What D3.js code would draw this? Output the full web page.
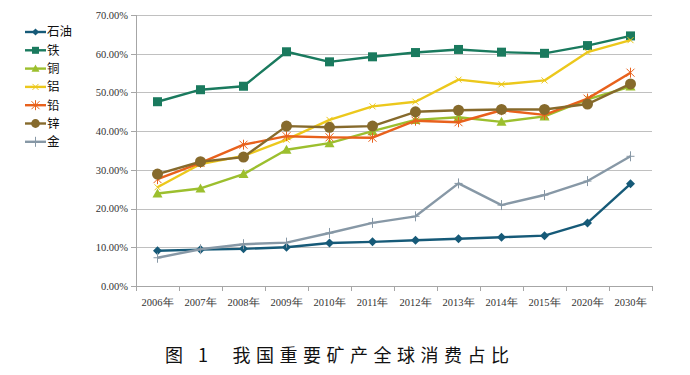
<!doctype html>
<head>
    <meta charset="utf-8">
    <title>我国重要矿产全球消费占比</title>
    <script src="https://d3js.org/d3.v7.min.js"></script>
    <style>
        body {margin:0; background:#fff;}
        svg {width:690px; height:375px; display:block;}
        .grid line {stroke:#c0c0c0; shape-rendering:crispEdges;}
        .axis path, .axis line {stroke:#a6a6a6; fill:none; shape-rendering:crispEdges;}
        .axis text {font-family:"Liberation Serif", serif; font-size:10.5px; fill:#333;}
        .legend text {font-family:"Noto Sans CJK SC", sans-serif; font-size:12.5px; fill:#111;}
        .title {font-family:"Noto Sans CJK SC", sans-serif; font-size:18px; fill:#111;}
    </style>
</head>
<body>
    <script>
        "use strict";
        var years = ["2006年", "2007年", "2008年", "2009年", "2010年", "2011年", "2012年", "2013年", "2014年", "2015年", "2020年", "2030年"];
        var yTicks = [0, 10, 20, 30, 40, 50, 60, 70];

        var oil    = [9.1, 9.4, 9.6, 10.0, 11.1, 11.4, 11.8, 12.2, 12.6, 13.0, 16.3, 26.4];
        var iron   = [47.6, 50.7, 51.6, 60.5, 57.9, 59.2, 60.3, 61.1, 60.4, 60.1, 62.1, 64.6];
        var copper = [23.9, 25.2, 28.9, 35.2, 36.9, 40.0, 42.9, 43.6, 42.4, 43.8, 48.2, 51.5];
        var alum   = [25.5, 31.5, 33.6, 37.8, 42.9, 46.4, 47.6, 53.3, 52.1, 53.1, 60.4, 63.5];
        var lead   = [27.6, 31.8, 36.5, 38.7, 38.4, 38.3, 42.7, 42.3, 45.4, 44.2, 48.4, 55.1];
        var zinc   = [28.9, 32.1, 33.3, 41.3, 41.0, 41.3, 45.0, 45.4, 45.6, 45.6, 47.0, 52.2];
        var gold   = [7.3, 9.5, 10.8, 11.2, 13.7, 16.3, 18.0, 26.5, 20.9, 23.5, 27.1, 33.5];

        var seriesNames = ["石油", "铁", "铜", "铝", "铅", "锌", "金"];
        var seriesValues = [oil, iron, copper, alum, lead, zinc, gold];
        var colors = ["#165a78", "#1a7a5e", "#9cbf2e", "#ecc81c", "#e8611c", "#866a2c", "#8798a6"];
        var markers = ["diamond", "square", "triangle", "x", "star", "circle", "cross"];

        var svg = d3.select("body").append("svg");
        var plotLeft = 136, plotRight = 652, plotTop = 15, plotBottom = 286;

        var x = d3.scaleBand().domain(years).range([plotLeft, plotRight]);
        var y = d3.scaleLinear().domain([0, 70]).range([plotBottom, plotTop]);

        // grid
        svg.append("g").attr("class", "grid")
            .selectAll("line").data(yTicks.slice(1)).enter().append("line")
            .attr("x1", plotLeft).attr("x2", plotRight)
            .attr("y1", function(d) { return Math.round(y(d)) + 0.5; })
            .attr("y2", function(d) { return Math.round(y(d)) + 0.5; });

        var yAxis = svg.append("g").attr("class", "axis")
            .attr("transform", "translate(" + plotLeft + ",0)")
            .call(d3.axisLeft(y).tickValues(yTicks).tickSize(5).tickPadding(3)
                .tickFormat(function(d) { return d.toFixed(2) + "%"; }));
        yAxis.select(".domain").attr("d", "M0," + plotTop + "V" + plotBottom);

        var xAxis = svg.append("g").attr("class", "axis")
            .attr("transform", "translate(0," + plotBottom + ")")
            .call(d3.axisBottom(x).tickSize(0).tickPadding(13));
        xAxis.select(".domain").attr("d", "M" + plotLeft + ",0H" + plotRight);
        xAxis.selectAll(".bound").data(d3.range(years.length + 1)).enter().append("line")
            .attr("class", "bound")
            .attr("x1", function(i) { return plotLeft + i * x.step(); })
            .attr("x2", function(i) { return plotLeft + i * x.step(); })
            .attr("y1", 0).attr("y2", 5);

        var line = d3.line()
            .x(function(d, i) { return x(years[i]) + x.bandwidth() / 2; })
            .y(function(d) { return y(d); });

        function drawMarker(g, type, color, size) {
            var s = size;
            if (type === "diamond") {
                g.append("path").attr("d", "M0," + (-s) + "L" + s + ",0L0," + s + "L" + (-s) + ",0Z").attr("fill", color);
            } else if (type === "square") {
                g.append("rect").attr("x", -s + 0.5).attr("y", -s + 0.5).attr("width", 2 * s - 1).attr("height", 2 * s - 1).attr("fill", color);
            } else if (type === "triangle") {
                g.append("path").attr("d", "M0," + (-s) + "L" + s + "," + (s * 0.8) + "L" + (-s) + "," + (s * 0.8) + "Z").attr("fill", color);
            } else if (type === "circle") {
                g.append("circle").attr("r", s).attr("fill", color);
            } else if (type === "x") {
                g.append("path").attr("d", "M-3,-3L3,3M-3,3L3,-3").attr("stroke", color).attr("stroke-width", 1);
            } else if (type === "star") {
                g.append("path").attr("d", "M-4,-4L4,4M-4,4L4,-4M0,-5V5").attr("stroke", color).attr("stroke-width", 1);
            } else if (type === "cross") {
                g.append("path").attr("d", "M0,-5V5M-4,0H4").attr("stroke", color).attr("stroke-width", 1);
            }
        }

        var sizes = [4.5, 5, 5, 4, 4, 5.5, 4];

        seriesValues.forEach(function(vals, k) {
            svg.append("path").datum(vals)
                .attr("d", line)
                .attr("fill", "none")
                .attr("stroke", colors[k])
                .attr("stroke-width", 2.4)
                .attr("stroke-linejoin", "round");
            vals.forEach(function(v, i) {
                var g = svg.append("g")
                    .attr("transform", "translate(" + (x(years[i]) + x.bandwidth() / 2) + "," + y(v) + ")");
                drawMarker(g, markers[k], colors[k], sizes[k]);
            });
        });

        // legend
        var legend = svg.append("g").attr("class", "legend");
        seriesNames.forEach(function(name, k) {
            var ly = 32 + k * 18.3;
            legend.append("line").attr("x1", 25).attr("x2", 46).attr("y1", ly).attr("y2", ly)
                .attr("stroke", colors[k]).attr("stroke-width", 2.4);
            var g = legend.append("g").attr("transform", "translate(35.5," + ly + ")");
            drawMarker(g, markers[k], colors[k], sizes[k] * 0.8);
            legend.append("text").attr("x", 47).attr("y", ly).attr("dy", "0.35em").text(name);
        });

        svg.append("text").attr("class", "title")
            .attr("x", 165).attr("y", 362)
            .attr("letter-spacing", "5.5px")
            .attr("xml:space", "preserve")
            .text("图 1  我国重要矿产全球消费占比");
    </script>
</body>
</html>
